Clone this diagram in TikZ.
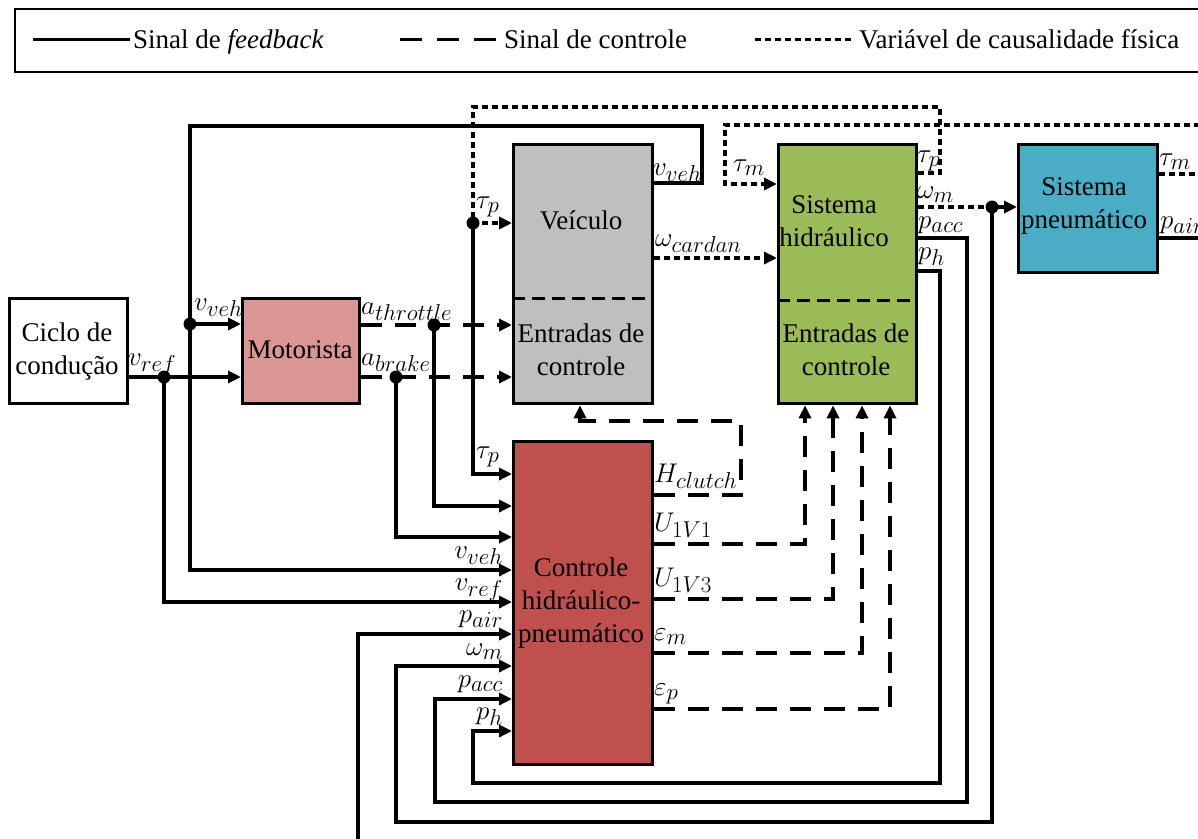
\RequirePackage{fix-cm}
\documentclass[tikz,border=0pt]{standalone}
\usepackage{fontspec}
\setmainfont{Liberation Serif}
\usetikzlibrary{arrows.meta}
\DeclareMathSizes{27}{27}{23}{18}
\definecolor{motcol}{HTML}{D99694}
\definecolor{vehcol}{HTML}{BFBFBF}
\definecolor{hydcol}{HTML}{9BBB59}
\definecolor{pneucol}{HTML}{4BACC6}
\definecolor{ctrlcol}{HTML}{C0504D}
\begin{document}
\begin{tikzpicture}[x=1pt,y=-1pt,
  box/.style={draw,line width=3.3pt,anchor=north west,inner sep=0pt},
  txt/.style={font=\fontsize{27}{33}\selectfont,align=center,inner sep=0pt},
  lbl/.style={font=\fontsize{27}{32}\selectfont,inner sep=0pt},
  fb/.style={line width=3.3pt},
  ctl/.style={line width=3.3pt,dash pattern=on 21pt off 13pt},
  phy/.style={line width=3.3pt,dash pattern=on 6pt off 4pt},
  divline/.style={line width=3pt,dash pattern=on 13pt off 7pt},
  arr/.style={-{Triangle[length=13pt,width=12pt]}},
  jdot/.style={circle,fill,inner sep=0pt,minimum size=13pt},
]
\clip (0,0) rectangle (1198,838);

% legend
\node[draw,line width=1.6pt,anchor=north west,minimum width=1220pt,minimum height=63pt] (legend) at (14,8) {};
\coordinate (l1a) at (33,39); \coordinate (l1b) at (130,39);
\coordinate (l2a) at (400,39); \coordinate (l2b) at (497,39);
\coordinate (l3a) at (755,39); \coordinate (l3b) at (852,39);
\draw[line width=3pt] (l1a) -- (l1b);
\draw[line width=3pt,dash pattern=on 22pt off 15pt] (l2a) -- (l2b);
\draw[line width=3pt,dash pattern=on 6pt off 4pt] (l3a) -- (l3b);
\node[txt,anchor=base west] (lt1) at (133,48) {Sinal de \textit{feedback}};
\node[txt,anchor=base west] (lt2) at (504,48) {Sinal de controle};
\node[txt,anchor=base west] (lt3) at (859,48) {Variável de causalidade física};

% boxes
\node[box,minimum width=118pt,minimum height=105pt,fill=white] (ciclo) at (8,297) {};
\node[box,minimum width=117pt,minimum height=105pt,fill=motcol] (mot) at (241,297) {};
\node[box,minimum width=139pt,minimum height=259pt,fill=vehcol] (veh) at (512,143) {};
\node[box,minimum width=138pt,minimum height=259pt,fill=hydcol] (hyd) at (777,143) {};
\node[box,minimum width=139pt,minimum height=128pt,fill=pneucol] (pneu) at (1017,143) {};
\node[box,minimum width=139pt,minimum height=323pt,fill=ctrlcol] (ctrl) at (512,440) {};
\draw[divline] (veh.west |- 0,298) -- (veh.east |- 0,298);
\draw[divline] (hyd.west |- 0,300) -- (hyd.east |- 0,300);

% box texts
\node[txt] (tciclo) at (67,351) {Ciclo de\\condução};
\node[txt] (tmot) at (300,350) {Motorista};
\node[txt] (tveh) at (581,220) {Veículo};
\node[txt] (tvehin) at (581,350) {Entradas de\\controle};
\node[txt] (thyd) at (834,221) {Sistema\\hidráulico};
\node[txt] (thydin) at (846,350) {Entradas de\\controle};
\node[txt] (tpneu) at (1084,206) {Sistema\\pneumático};
\node[txt] (tctrl) at (581,603) {Controle\\hidráulico-\\pneumático};

% junction dots
\node[jdot] (jvref) at (164,377) {};
\node[jdot] (jvveh) at (190,324) {};
\node[jdot] (jthr) at (434,325) {};
\node[jdot] (jbrk) at (396,377) {};
\node[jdot] (jtaup) at (473,223) {};
\node[jdot] (jwm) at (992,207) {};

% feedback signals
\draw[fb,arr] (ciclo.east |- 0,377) -- (mot.west |- 0,377);
\draw[fb,arr] (jvref.center) -- (164,602) -- (ctrl.west |- 0,602);
\draw[fb,arr] (veh.east |- 0,183) -- (702,183) -- (702,126) -- (190,126) -- (190,570) -- (ctrl.west |- 0,570);
\draw[fb,arr] (jvveh.center) -- (mot.west |- 0,324);
\draw[fb,arr] (jthr.center) -- (434,506) -- (ctrl.west |- 0,506);
\draw[fb,arr] (jbrk.center) -- (396,537) -- (ctrl.west |- 0,537);
\draw[fb,arr] (jtaup.center) -- (473,474) -- (ctrl.west |- 0,474);
\draw[fb,arr] (pneu.east |- 0,238) -- (1240,238) -- (1240,870) -- (358,870) -- (358,634) -- (ctrl.west |- 0,634);
\draw[fb,arr] (jwm.center) -- (992,822) -- (396,822) -- (396,666) -- (ctrl.west |- 0,666);
\draw[fb,arr] (hyd.east |- 0,238) -- (967,238) -- (967,802) -- (435,802) -- (435,699) -- (ctrl.west |- 0,699);
\draw[fb,arr] (hyd.east |- 0,271) -- (940,271) -- (940,783) -- (473,783) -- (473,731) -- (ctrl.west |- 0,731);

% control signals
\draw[ctl,arr] (mot.east |- 0,325) -- (veh.west |- 0,325);
\draw[ctl,arr] (mot.east |- 0,377) -- (veh.west |- 0,377);
\draw[ctl,arr] (ctrl.east |- 0,495) -- (741,495) -- (741,421) -- (580,421) -- (580,0 |- veh.south);
\draw[ctl,arr] (ctrl.east |- 0,544) -- (805,544) -- (805,0 |- hyd.south);
\draw[ctl,arr] (ctrl.east |- 0,599) -- (833,599) -- (833,0 |- hyd.south);
\draw[ctl,arr] (ctrl.east |- 0,653) -- (862,653) -- (862,0 |- hyd.south);
\draw[ctl,arr] (ctrl.east |- 0,709) -- (890,709) -- (890,0 |- hyd.south);

% physical causality
\draw[phy,arr] (hyd.east |- 0,173) -- (940,173) -- (940,107) -- (473,107) -- (473,223) -- (veh.west |- 0,223);
\draw[phy,arr] (pneu.east |- 0,174) -- (1240,174) -- (1240,125) -- (725,125) -- (725,184) -- (hyd.west |- 0,184);
\draw[phy,arr] (veh.east |- 0,258) -- (hyd.west |- 0,258);
\draw[phy,arr] (hyd.east |- 0,207) -- (pneu.west |- 0,207);

% labels
\node[lbl,anchor=base west] (lvref) at (128,365) {$v_{ref}$};
\node[lbl,anchor=base west] (lvveh) at (194,310) {$v_{veh}$};
\node[lbl,anchor=base west] (lthr) at (361,314) {$a_{throttle}$};
\node[lbl,anchor=base west] (lbrk) at (361,365) {$a_{brake}$};
\node[lbl,anchor=base west] (ltaup) at (476,208) {$\tau_p$};
\node[lbl,anchor=base west] (lvvehout) at (653,175) {$v_{veh}$};
\node[lbl,anchor=base west] (lwcard) at (655,246) {$\omega_{cardan}$};
\node[lbl,anchor=base west] (ltaumin) at (733,171) {$\tau_m$};
\node[lbl,anchor=base west] (ltaupout) at (917,162) {$\tau_p$};
\node[lbl,anchor=base west] (lwm) at (917,198) {$\omega_m$};
\node[lbl,anchor=base west] (lpacc) at (918,228) {$p_{acc}$};
\node[lbl,anchor=base west] (lph) at (918,259) {$p_h$};
\node[lbl,anchor=base west] (ltaumout) at (1159,165) {$\tau_m$};
\node[lbl,anchor=base west] (lpair) at (1160,228) {$p_{air}$};
\node[lbl,anchor=base west] (lctaup) at (476,458) {$\tau_p$};
\node[lbl,anchor=base west] (lhcl) at (654,482) {$H_{clutch}$};
\node[lbl,anchor=base west] (lu1) at (654,531) {$U_{1V1}$};
\node[lbl,anchor=base west] (lu3) at (654,586) {$U_{1V3}$};
\node[lbl,anchor=base west] (lem) at (654,640) {$\varepsilon_m$};
\node[lbl,anchor=base west] (lep) at (654,695) {$\varepsilon_p$};
\node[lbl,anchor=base east] (lcvveh) at (503,558) {$v_{veh}$};
\node[lbl,anchor=base east] (lcvref) at (503,590) {$v_{ref}$};
\node[lbl,anchor=base east] (lcpair) at (503,622) {$p_{air}$};
\node[lbl,anchor=base east] (lcwm) at (503,655) {$\omega_m$};
\node[lbl,anchor=base east] (lcpacc) at (503,687) {$p_{acc}$};
\node[lbl,anchor=base east] (lcph) at (503,719) {$p_h$};
\end{tikzpicture}
\end{document}
